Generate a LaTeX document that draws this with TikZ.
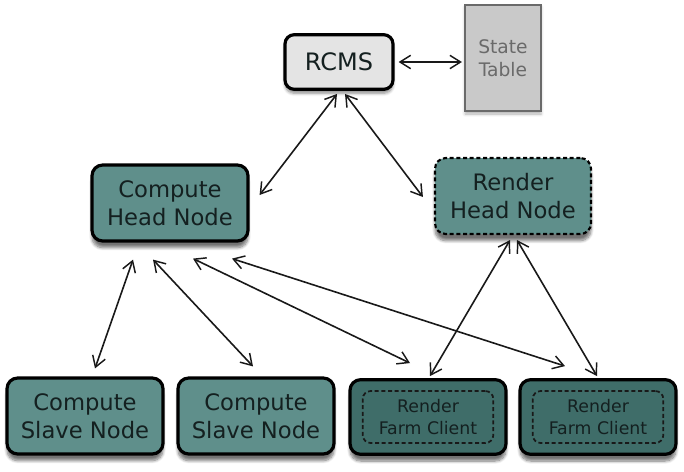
\documentclass[tikz,border=0pt]{standalone}
\usepackage{fontspec}
\setmainfont{DejaVu Sans}
\usepackage{tikz}
\usetikzlibrary{arrows.meta, positioning, shadows, shadows.blur}
\definecolor{tealbox}{HTML}{5F8F8B}
\definecolor{darkteal}{HTML}{3F6D69}
\definecolor{inktext}{HTML}{142020}
\definecolor{ctrlgray}{HTML}{E4E4E4}
\definecolor{tablegray}{HTML}{C9C9C9}
\definecolor{tableedge}{HTML}{6A6A6A}

\begin{document}
\begin{tikzpicture}[
        x=0.75pt, y=-0.75pt,
        font=\normalsize,
        >={Straight Barb[length=8pt, width=10pt, line width=1.1pt]},
        ctrl/.style={draw=black, line width=2.4pt, fill=ctrlgray, rounded corners=7pt,
                     minimum width=81pt, minimum height=41pt, align=center,
                     text=inktext, font=\fontsize{18}{21}\selectfont,
                     blur shadow={shadow xshift=0pt, shadow yshift=-3pt, shadow blur steps=6, shadow opacity=45}},
        tbl/.style={draw=tableedge, line width=1.6pt, fill=tablegray,
                    minimum width=57pt, minimum height=80pt, align=center,
                    text=tableedge, font=\fontsize{14}{17}\selectfont,
                    blur shadow={shadow xshift=0pt, shadow yshift=-2pt, shadow blur steps=4, shadow opacity=30}},
        cnode/.style={draw=black, line width=2.4pt, fill=tealbox, rounded corners=8pt,
                      minimum width=117pt, minimum height=57pt, align=center,
                      text=inktext, font=\fontsize{17}{21}\selectfont,
                      blur shadow={shadow xshift=0pt, shadow yshift=-5pt, shadow blur steps=8, shadow opacity=55}},
        rnode/.style={cnode, dashed, line width=1.6pt, dash pattern=on 3pt off 2pt},
        farmbox/.style={draw=black, line width=2.4pt, fill=darkteal, rounded corners=8pt,
                        minimum width=117pt, minimum height=56pt,
                        blur shadow={shadow xshift=0pt, shadow yshift=-5pt, shadow blur steps=8, shadow opacity=55}},
        farmin/.style={draw=black!90, line width=1.3pt, dash pattern=on 3pt off 2pt,
                       rounded corners=6pt, minimum width=98pt, minimum height=39pt,
                       align=center, text=inktext, font=\fontsize{13}{16}\selectfont},
        link/.style={draw=black!90, line width=1.2pt, <->}
    ]
      \useasboundingbox (0,0) rectangle (684,471);

      % --- Top: control and state ---
      \node[ctrl] (rcms) at (339, 62) {RCMS};
      \node[tbl] (state) at (503, 58) {State\\Table};

      % --- Head nodes ---
      \node[cnode] (chead) at (170, 203) {Compute\\Head Node};
      \node[rnode] (rhead) at (513, 196) {Render\\Head Node};

      % --- Bottom row ---
      \node[cnode] (slaveA) at (85, 416) {Compute\\Slave Node};
      \node[cnode] (slaveB) at (256, 416) {Compute\\Slave Node};
      \node[farmbox] (farmA) at (428, 417) {};
      \node[farmin] (clientA) at (farmA.center) {Render\\Farm Client};
      \node[farmbox] (farmB) at (598, 417) {};
      \node[farmin] (clientB) at (farmB.center) {Render\\Farm Client};

      % Links from the control server
      \draw[link] ([shift={(4,0)}]rcms.east) -- ([shift={(-2,4)}]state.west);
      \draw[link] ([shift={(-2,3)}]rcms.south) -- ([shift={(10,-8)}]chead.east);
      \draw[link] ([shift={(6,3)}]rcms.south) -- ([shift={(-11,1)}]rhead.west);

      % Links from the compute head
      \draw[link] ([shift={(-37,17)}]chead.south) -- ([shift={(10,-8)}]slaveA.north);
      \draw[link] ([shift={(-17,17)}]chead.south) -- ([shift={(-3,-10)}]slaveB.north);
      \draw[link] ([shift={(23,16)}]chead.south) -- ([shift={(-18,-15)}]farmA.north);
      \draw[link] ([shift={(62,16)}]chead.south) -- ([shift={(-33,-12)}]farmB.north);

      % Links from the render head
      \draw[link] ([shift={(-3,5)}]rhead.south) -- ([shift={(2,-2)}]farmA.north);
      \draw[link] ([shift={(4,5)}]rhead.south) -- ([shift={(-1,-2)}]farmB.north);
    \end{tikzpicture}
\end{document}
